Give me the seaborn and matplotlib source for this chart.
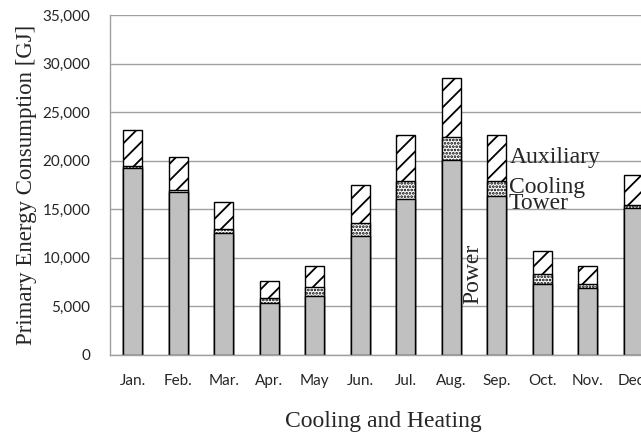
import numpy as np
import pandas as pd
import matplotlib
matplotlib.use("Agg")
import matplotlib.pyplot as plt
import seaborn as sns

# Monthly primary energy consumption [GJ]
months = ['Jan.', 'Feb.', 'Mar.', 'Apr.', 'May', 'Jun.', 'Jul.', 'Aug.', 'Sep.', 'Oct.', 'Nov.', 'Dec.']
power = [19200, 16800, 12600, 5400, 6100, 12300, 16100, 20100, 16400, 7350, 6900, 15100]
cooling_tower = [250, 200, 400, 500, 900, 1300, 1800, 2300, 1500, 1000, 400, 300]
auxiliary = [3750, 3400, 2800, 1700, 2200, 3900, 4700, 6100, 4700, 2350, 1900, 3100]

df = pd.DataFrame({'month': months, 'power': power,
                   'cooling': cooling_tower, 'aux': auxiliary})
df['power_cool'] = df['power'] + df['cooling']
df['total'] = df['power_cool'] + df['aux']

sns.set_style("white")
plt.rcParams['hatch.linewidth'] = 1.3
serif = ['Liberation Serif', 'DejaVu Serif']
sans = ['Lato', 'DejaVu Sans']

fig = plt.figure(figsize=(6.41, 4.34), dpi=100)
ax = fig.add_axes([110 / 641, 79 / 434, 546 / 641, 340 / 434])

# stacked bars drawn as overlapping cumulative layers
sns.barplot(x='month', y='total', data=df, ax=ax, color='white', edgecolor='black',
            hatch='//', linewidth=1.0, width=0.42, saturation=1)
sns.barplot(x='month', y='power_cool', data=df, ax=ax, color='white', edgecolor='black',
            hatch='.....', linewidth=1.0, width=0.42, saturation=1)
sns.barplot(x='month', y='power', data=df, ax=ax, color='#c0c0c0', edgecolor='black',
            linewidth=1.0, width=0.42, saturation=1)

ax.set_ylim(0, 35000)
ax.set_xlim(-0.5, 11.5)
ax.set_yticks(np.arange(0, 35001, 5000))
ax.set_yticklabels([f'{v:,}' for v in range(0, 35001, 5000)], fontfamily=sans, fontsize=11)
ax.set_xticks(range(len(months)))
ax.set_xticklabels(months, fontfamily=sans, fontsize=11)
ax.set_xticks(np.arange(-0.5, 12, 1), minor=True)
ax.tick_params(axis='x', which='major', length=0, pad=14)
ax.tick_params(axis='x', which='minor', length=6, color='#a0a0a0', width=1)
ax.tick_params(axis='y', length=6, color='#a0a0a0', width=1, pad=8)
ax.yaxis.grid(True, color='#a0a0a0', linewidth=1)
ax.set_axisbelow(True)
for s in ['top', 'right']:
    ax.spines[s].set_visible(False)
for s in ['left', 'bottom']:
    ax.spines[s].set_color('#a0a0a0')
    ax.spines[s].set_linewidth(1)

ax.set_xlabel('Cooling and Heating', fontfamily=serif, fontsize=17, labelpad=16)
ax.set_ylabel('Primary Energy Consumption [GJ]', fontfamily=serif, fontsize=16.5, labelpad=4)

ax.text(8.29, 20300, 'Auxiliary', fontfamily=serif, fontsize=17, va='center', ha='left')
ax.text(8.27, 16400, 'Cooling\nTower', fontfamily=serif, fontsize=17, va='center',
        ha='left', linespacing=0.7)
ax.text(7.48, 8300, 'Power', fontfamily=serif, fontsize=17, va='center', ha='center',
        rotation=90)

fig.savefig('out.png', dpi=100)
